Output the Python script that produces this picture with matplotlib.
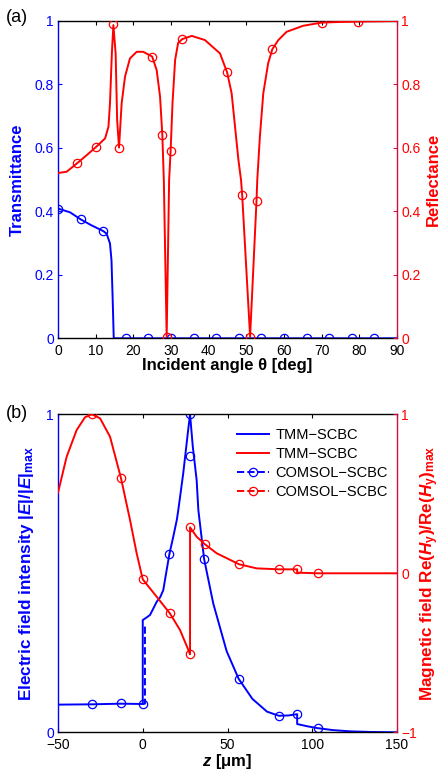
import matplotlib
matplotlib.use("Agg")
import matplotlib.pyplot as plt
from matplotlib.lines import Line2D

plt.rcParams['font.family'] = ['Liberation Sans', 'DejaVu Sans']
plt.rcParams['mathtext.fontset'] = 'custom'
plt.rcParams['mathtext.rm'] = 'Liberation Sans:bold'
plt.rcParams['mathtext.it'] = 'Liberation Sans:italic:bold'
plt.rcParams['mathtext.bf'] = 'Liberation Sans:bold'

BLUE = '#0000ff'
RED = '#ff0000'
SPINE_RED = '#cc1040'

# ---------------- Panel (a) data ----------------
theta_R = [0, 2.3, 5, 7.6, 10.1, 12.5, 13.4, 13.8, 14.3, 14.7, 15.3, 15.7, 16.2, 16.9,
           17.8, 19.1, 20.9, 22.6, 25.0, 26.2, 27.1, 27.7, 28.1, 28.85, 29.5, 29.9,
           30.4, 31.1, 31.9, 33.0, 35.5, 39.0, 43.0, 44.9, 46.1, 47.0, 47.9, 48.6,
           48.9, 51.0, 52.7, 52.9, 53.6, 54.5, 55.8, 56.9, 58.5, 60.7, 65.1, 70,
           75, 79.7, 85, 90]
R_tmm = [0.521, 0.525, 0.551, 0.577, 0.603, 0.630, 0.667, 0.74, 0.898, 0.987, 0.898,
         0.688, 0.601, 0.741, 0.825, 0.882, 0.903, 0.903, 0.888, 0.845, 0.761, 0.64,
         0.498, 0.005, 0.498, 0.591, 0.741, 0.878, 0.931, 0.943, 0.953, 0.940, 0.898,
         0.838, 0.772, 0.667, 0.562, 0.498, 0.451, 0.005, 0.433, 0.498, 0.636, 0.772,
         0.867, 0.911, 0.940, 0.966, 0.985, 0.995, 0.997, 0.998, 0.999, 1.0]

theta_R_mk = [5, 10.1, 14.7, 16.2, 25.0, 27.7, 28.85, 29.9, 33.0, 44.9, 48.9, 51.0,
              52.7, 56.9, 70, 79.7]
R_mk = [0.551, 0.603, 0.99, 0.601, 0.888, 0.64, 0.005, 0.591, 0.943, 0.838, 0.451,
        0.005, 0.433, 0.911, 0.995, 0.998]

theta_T = [0, 3.2, 6, 8.9, 12, 12.9, 13.8, 14.2, 14.5, 14.8, 20, 40, 60, 80, 90]
T_tmm = [0.409, 0.397, 0.375, 0.356, 0.338, 0.330, 0.299, 0.246, 0.130, 0.0, 0.0,
         0.0, 0.0, 0.0, 0.0]

theta_T_mk = [0, 6, 12, 18, 24, 30, 36, 42, 48, 54, 60, 66, 72, 78, 84]
T_mk = [0.409, 0.375, 0.338, 0, 0, 0, 0, 0, 0, 0, 0, 0, 0, 0, 0]

# ---------------- Panel (b) data ----------------
z_E = [-50, -30, -13, 0, 0, 2, 4.3, 8.3, 10.3, 12.1, 14.1, 15.7, 18, 20.1, 21, 23.9,
       26.8, 27.9, 29.5, 31.8, 32.8, 36.2, 41.6, 49.5, 56.6, 64.7, 73.3, 80.3, 86,
       91.1, 91.1, 97, 103.3, 112, 122.3, 135, 150]
E_tmm = [0.087, 0.088, 0.090, 0.089, 0.353, 0.36, 0.369, 0.411, 0.425, 0.447, 0.51,
         0.56, 0.615, 0.668, 0.70, 0.815, 0.951, 1.0, 0.90, 0.793, 0.699, 0.545,
         0.405, 0.255, 0.168, 0.105, 0.065, 0.052, 0.053, 0.057, 0.026, 0.019,
         0.013, 0.007, 0.003, 0.001, 0.0]

z_E_mk = [-30.1, -12.9, 0, 15.7, 27.9, 27.9, 36.2, 56.6, 80.3, 91.1, 103.3]
E_mk = [0.088, 0.091, 0.089, 0.56, 1.0, 0.869, 0.545, 0.168, 0.052, 0.057, 0.013]

z_E_comsol_jump = [0, 1.3, 1.3]
E_comsol_jump = [0.089, 0.09, 0.34]

z_H = [-50, -44.9, -39.0, -34.1, -30.1, -25.2, -19.3, -12.8, -7.5, -3.6, 0, 8.2, 16,
       22, 26.9, 27.9, 27.9, 31.8, 36.5, 43.6, 56.8, 67.2, 80.3, 91.1, 91.1, 103.3,
       150]
H_tmm = [0.507, 0.733, 0.901, 0.981, 1.0, 0.975, 0.859, 0.597, 0.335, 0.126, -0.038,
         -0.147, -0.252, -0.357, -0.482, -0.509, 0.289, 0.230, 0.184, 0.126, 0.057,
         0.031, 0.025, 0.025, 0.004, 0.0, 0.0]

z_H_mk = [-30.1, -12.8, 0, 16, 27.9, 27.9, 36.5, 56.8, 80.3, 91.1, 103.3]
H_mk = [1.0, 0.597, -0.038, -0.252, -0.509, 0.289, 0.184, 0.057, 0.025, 0.025, 0.0]

xticks_a = [0, 10, 20, 30, 40, 50, 60, 70, 80, 90]
yticks_a = [0, 0.2, 0.4, 0.6, 0.8, 1]
yticklabels_a = ['0', '0.2', '0.4', '0.6', '0.8', '1']
xticks_b = [-50, 0, 50, 100, 150]
yticks_b_left = [0, 1]
yticks_b_right = [-1, 0, 1]

LW = 1.4
MS = 6
MEW = 0.9
TICKFS = 10
LABFS = 12.0
LABFS_B = 12.3

fig = plt.figure(figsize=(4.43, 7.75), dpi=100)

def style_axes(ax1, ax2):
    for s in ['top', 'bottom']:
        ax1.spines[s].set_color('black')
        ax1.spines[s].set_linewidth(1.0)
    ax1.spines['left'].set_color(BLUE)
    ax1.spines['left'].set_linewidth(1.0)
    ax1.spines['right'].set_visible(False)
    for s in ['top', 'bottom', 'left']:
        ax2.spines[s].set_visible(False)
    ax2.spines['right'].set_color(SPINE_RED)
    ax2.spines['right'].set_linewidth(1.0)
    ax1.tick_params(axis='x', direction='in', top=True, length=3, width=0.8,
                    colors='black', labelsize=TICKFS, pad=4)
    ax1.tick_params(axis='y', direction='in', length=3, width=0.8, color=BLUE,
                    labelcolor=BLUE, labelsize=TICKFS, pad=3)
    ax2.tick_params(axis='y', direction='in', length=3, width=0.8, color=SPINE_RED,
                    labelcolor=RED, labelsize=TICKFS, pad=3)

# ---------- (a) ----------
axa = fig.add_axes([58/443, 1-338.3/775, 339/443, 317.3/775])
axa2 = axa.twinx()
axa.plot(theta_T, T_tmm, color=BLUE, lw=LW)
axa.plot(theta_T_mk, T_mk, 'o', color=BLUE, mfc='none', ms=MS, mew=MEW)
axa2.plot(theta_R, R_tmm, color=RED, lw=LW)
axa2.plot(theta_R_mk, R_mk, 'o', color=RED, mfc='none', ms=MS, mew=MEW)
axa.set_xlim(0, 90)
axa.set_ylim(0, 1)
axa2.set_ylim(0, 1)
axa.set_xticks(xticks_a)
axa.set_yticks(yticks_a)
axa.set_yticklabels(yticklabels_a)
axa2.set_yticks(yticks_a)
axa2.set_yticklabels(yticklabels_a)
style_axes(axa, axa2)
axa.set_xlabel('Incident angle θ [deg]', fontsize=LABFS, fontweight='bold', labelpad=0)
axa.set_ylabel('Transmittance', fontsize=LABFS, fontweight='bold', color=BLUE)
axa2.set_ylabel('Reflectance', fontsize=LABFS, fontweight='bold', color=RED,
                rotation=90)
axa.yaxis.set_label_coords(-0.097, 0.5)
axa2.yaxis.set_label_coords(1.084, 0.5)
fig.text(6/443, 1-18/775, '(a)', fontsize=13, ha='left', va='center')

# ---------- (b) ----------
axb = fig.add_axes([58/443, 1-732.3/775, 339/443, 318/775])
axb2 = axb.twinx()
axb.plot(z_E, E_tmm, color=BLUE, lw=LW)
axb.plot(z_E_comsol_jump, E_comsol_jump, '--', color=BLUE, lw=LW)
axb.plot(z_E_mk, E_mk, 'o', color=BLUE, mfc='none', ms=MS, mew=MEW)
axb2.plot(z_H, H_tmm, color=RED, lw=LW)
axb2.plot(z_H_mk, H_mk, 'o', color=RED, mfc='none', ms=MS, mew=MEW)
axb.set_xlim(-50, 150)
axb.set_ylim(0, 1)
axb2.set_ylim(-1, 1)
axb.set_xticks(xticks_b)
axb.set_yticks(yticks_b_left)
axb2.set_yticks(yticks_b_right)
style_axes(axb, axb2)
axb.set_xlabel('$z$ [μm]', fontsize=LABFS, fontweight='bold', labelpad=0)
axb.set_ylabel('Electric field intensity |$E$|/|$E$|$_{\\rm max}$', fontsize=LABFS_B,
               fontweight='bold', color=BLUE)
axb2.set_ylabel('Magnetic field Re($H_{\\rm y}$)/Re($H_{\\rm y}$)$_{\\rm max}$',
                fontsize=LABFS_B, fontweight='bold', color=RED, rotation=90)
axb.yaxis.set_label_coords(-0.064, 0.5)
axb2.yaxis.set_label_coords(1.062, 0.5)
fig.text(6/443, 1-414/775, '(b)', fontsize=13, ha='left', va='center')

handles = [
    Line2D([], [], color=BLUE, lw=LW),
    Line2D([], [], color=RED, lw=LW),
    Line2D([], [], color=BLUE, lw=LW, ls='--', marker='o', mfc='none', ms=MS, mew=MEW),
    Line2D([], [], color=RED, lw=LW, ls='--', marker='o', mfc='none', ms=MS, mew=MEW),
]
labels = ['TMM−SCBC', 'TMM−SCBC', 'COMSOL−SCBC', 'COMSOL−SCBC']
axb2.legend(handles, labels, loc='upper left', bbox_to_anchor=(0.528, 0.958),
            frameon=False, fontsize=10.5, handlelength=2.2, handletextpad=0.45,
            labelspacing=0.36, borderpad=0, borderaxespad=0)

fig.savefig('out.png', dpi=100)
